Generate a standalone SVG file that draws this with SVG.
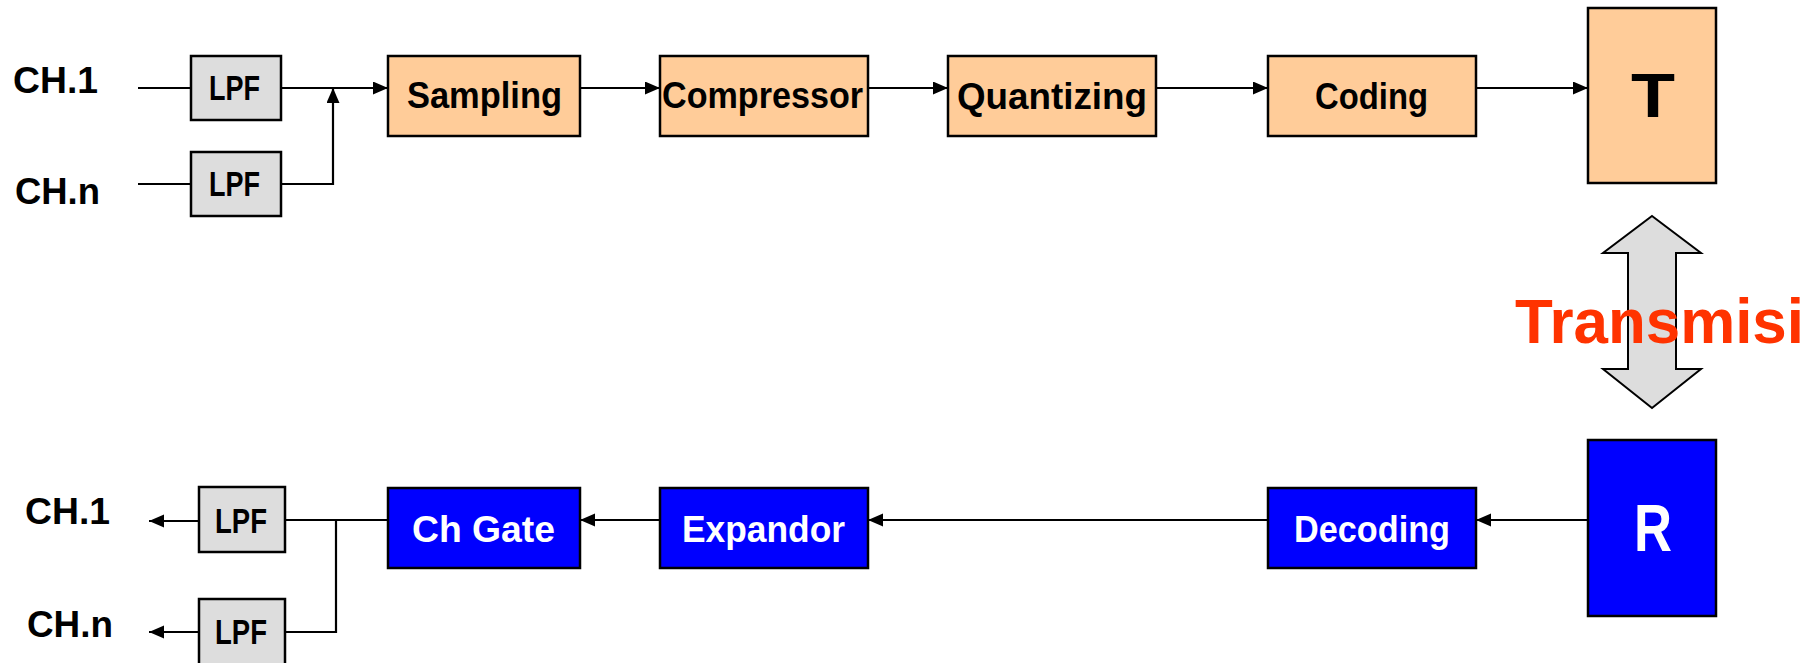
<svg xmlns="http://www.w3.org/2000/svg" width="1817" height="663" viewBox="0 0 1817 663">
  <style>
    .lbl { font-family: "Liberation Sans", Arial, sans-serif; font-weight: bold; font-size: 36px; fill: #000; }
    .sm { font-size: 35px; }
    .big { font-size: 63px; }
    .wht { fill: #fff; }
    .red { fill: #ff3300; }
    .peach { fill: #ffcc99; stroke: #000; stroke-width: 2.5; }
    .gray { fill: #dddddd; stroke: #000; stroke-width: 2.5; }
    .blue { fill: #0000ff; stroke: #000; stroke-width: 2.5; }
    .wire { fill: none; stroke: #000; stroke-width: 2.2; }
    .arr { marker-end: url(#head); }
  </style>
  <defs>
    <marker id="head" markerUnits="userSpaceOnUse" markerWidth="16" markerHeight="14" refX="15" refY="6.5" orient="auto">
      <path d="M0,0 L15,6.5 L0,13 Z" fill="#000"/>
    </marker>
  </defs>
  <rect width="1817" height="663" fill="#fff"/>

  <!-- connectors -->
  <g id="connectors">
    <!-- transmitter chain -->
    <line class="wire" x1="138" y1="88" x2="191" y2="88"/>
    <line class="wire" x1="138" y1="184" x2="191" y2="184"/>
    <line class="wire arr" x1="281" y1="88" x2="388" y2="88"/>
    <path class="wire arr" d="M281,184 H333 V88"/>
    <line class="wire arr" x1="580" y1="88" x2="660" y2="88"/>
    <line class="wire arr" x1="868" y1="88" x2="948" y2="88"/>
    <line class="wire arr" x1="1156" y1="88" x2="1268" y2="88"/>
    <line class="wire arr" x1="1476" y1="88" x2="1588" y2="88"/>
    <!-- receiver chain -->
    <line class="wire arr" x1="1588" y1="520" x2="1476" y2="520"/>
    <line class="wire arr" x1="1268" y1="520" x2="868" y2="520"/>
    <line class="wire arr" x1="660" y1="520" x2="580" y2="520"/>
    <line class="wire" x1="388" y1="520" x2="285" y2="520"/>
    <path class="wire" d="M336,520 V632 H285"/>
    <line class="wire arr" x1="199" y1="521" x2="149" y2="521"/>
    <line class="wire arr" x1="199" y1="632" x2="149" y2="632"/>
  </g>

  <!-- channel labels -->
  <g id="in-ch1"><text class="lbl" x="13" y="93" textLength="85" lengthAdjust="spacingAndGlyphs">CH.1</text></g>
  <g id="in-chn"><text class="lbl" x="15" y="204" textLength="85" lengthAdjust="spacingAndGlyphs">CH.n</text></g>
  <g id="out-ch1"><text class="lbl" x="25" y="524" textLength="85" lengthAdjust="spacingAndGlyphs">CH.1</text></g>
  <g id="out-chn"><text class="lbl" x="27" y="637" textLength="86" lengthAdjust="spacingAndGlyphs">CH.n</text></g>

  <!-- input filters -->
  <g id="lpf-in-1">
    <rect class="gray" x="191" y="56" width="90" height="64"/>
    <text class="lbl sm" x="209" y="100" textLength="51" lengthAdjust="spacingAndGlyphs">LPF</text>
  </g>
  <g id="lpf-in-n">
    <rect class="gray" x="191" y="152" width="90" height="64"/>
    <text class="lbl sm" x="209" y="196" textLength="51" lengthAdjust="spacingAndGlyphs">LPF</text>
  </g>

  <!-- transmitter blocks -->
  <g id="sampling">
    <rect class="peach" x="388" y="56" width="192" height="80"/>
    <text class="lbl" x="407" y="108" textLength="155" lengthAdjust="spacingAndGlyphs">Sampling</text>
  </g>
  <g id="compressor">
    <rect class="peach" x="660" y="56" width="208" height="80"/>
    <text class="lbl" x="662" y="108" textLength="201" lengthAdjust="spacingAndGlyphs">Compressor</text>
  </g>
  <g id="quantizing">
    <rect class="peach" x="948" y="56" width="208" height="80"/>
    <text class="lbl" x="957" y="109" textLength="190" lengthAdjust="spacingAndGlyphs">Quantizing</text>
  </g>
  <g id="coding">
    <rect class="peach" x="1268" y="56" width="208" height="80"/>
    <text class="lbl" x="1315" y="109" textLength="113" lengthAdjust="spacingAndGlyphs">Coding</text>
  </g>
  <g id="tx">
    <rect class="peach" x="1588" y="8" width="128" height="175"/>
    <text class="lbl big" x="1631" y="117" textLength="44" lengthAdjust="spacingAndGlyphs">T</text>
  </g>

  <!-- transmission link -->
  <g id="link">
    <polygon points="1652,216 1701,253 1676,253 1676,369 1701,369 1652,408 1603,369 1628,369 1628,253 1603,253" fill="#dddddd" stroke="#000" stroke-width="2"/>
    <text class="lbl big red" x="1515" y="343" textLength="289" lengthAdjust="spacingAndGlyphs">Transmisi</text>
  </g>

  <!-- receiver blocks -->
  <g id="rx">
    <rect class="blue" x="1588" y="440" width="128" height="176"/>
    <text class="lbl big wht" x="1634" y="551" style="font-size:66px" textLength="38" lengthAdjust="spacingAndGlyphs">R</text>
  </g>
  <g id="decoding">
    <rect class="blue" x="1268" y="488" width="208" height="80"/>
    <text class="lbl wht" x="1294" y="542" textLength="156" lengthAdjust="spacingAndGlyphs">Decoding</text>
  </g>
  <g id="expandor">
    <rect class="blue" x="660" y="488" width="208" height="80"/>
    <text class="lbl wht" x="682" y="542" textLength="163" lengthAdjust="spacingAndGlyphs">Expandor</text>
  </g>
  <g id="ch-gate">
    <rect class="blue" x="388" y="488" width="192" height="80"/>
    <text class="lbl wht" x="412" y="542" textLength="143" lengthAdjust="spacingAndGlyphs">Ch Gate</text>
  </g>

  <!-- output filters -->
  <g id="lpf-out-1">
    <rect class="gray" x="199" y="487" width="86" height="65"/>
    <text class="lbl sm" x="215" y="533" textLength="52" lengthAdjust="spacingAndGlyphs">LPF</text>
  </g>
  <g id="lpf-out-n">
    <rect class="gray" x="199" y="599" width="86" height="67"/>
    <text class="lbl sm" x="215" y="644" textLength="52" lengthAdjust="spacingAndGlyphs">LPF</text>
  </g>
</svg>
